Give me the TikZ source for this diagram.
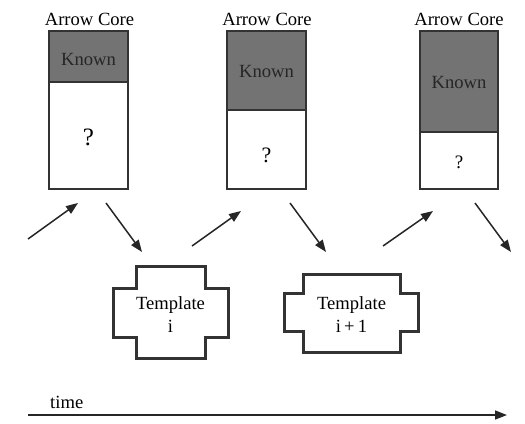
\documentclass[tikz,border=0pt]{standalone}
\usepackage{fontspec}
\setmainfont{Liberation Serif}
\usetikzlibrary{arrows.meta}
\begin{document}
\begin{tikzpicture}[x=1bp,y=-1bp,
  txt/.style={font=\fontsize{18.6bp}{23bp}\selectfont, inner sep=0pt, align=center},
  boxline/.style={draw=black!80, line width=1.4bp},
  shade/.style={fill=black!55},
  tmpl/.style={draw=black!80, line width=3bp, line join=miter},
  flow/.style={draw=black!85, line width=1.5bp, -{Triangle[length=12bp,width=9bp]}},
]
\useasboundingbox (0,0) rectangle (525,423);
% core boxes
\fill[shade] (49,31) rectangle (128,82);
\draw[boxline] (49,31) rectangle (128,189);
\draw[boxline] (49,82) -- (128,82);
\fill[shade] (227,31) rectangle (306,110);
\draw[boxline] (227,31) rectangle (306,189);
\draw[boxline] (227,110) -- (306,110);
\fill[shade] (420,31) rectangle (498,132);
\draw[boxline] (420,31) rectangle (498,189);
\draw[boxline] (420,132) -- (498,132);
\node[txt] (h1) at (89.5,19) {Arrow Core};
\node[txt] (h2) at (267,19) {Arrow Core};
\node[txt] (h3) at (459,19) {Arrow Core};
\node[txt, text=black!85] (k1) at (88.5,59) {Known};
\node[txt, text=black!85] (k2) at (266.5,71) {Known};
\node[txt, text=black!85] (k3) at (459,82) {Known};
\node[txt, font=\fontsize{25bp}{26bp}\selectfont] (q1) at (88.5,137) {?};
\node[txt, font=\fontsize{22bp}{24bp}\selectfont] (q2) at (266.5,155) {?};
\node[txt, font=\fontsize{19bp}{22bp}\selectfont] (q3) at (459,162) {?};
% templates
\draw[tmpl] (136,266) -- (205,266) -- (205,288) -- (228,288) -- (228,337) -- (205,337) -- (205,358) -- (136,358) -- (136,337) -- (113,337) -- (113,288) -- (136,288) -- cycle;
\draw[tmpl] (303,274) -- (400,274) -- (400,293) -- (418,293) -- (418,331) -- (400,331) -- (400,352) -- (303,352) -- (303,331) -- (284,331) -- (284,293) -- (303,293) -- cycle;
\node[txt] (t1) at (170.5,315) {Template\\i};
\node[txt] (t2) at (351.5,315) {Template\\i\,+\,1};
% flow arrows
\coordinate (a1s) at (28,239); \coordinate (a1e) at (78,203);
\coordinate (a2s) at (106,203); \coordinate (a2e) at (142,252);
\coordinate (a3s) at (192,246); \coordinate (a3e) at (241,211);
\coordinate (a4s) at (290,203); \coordinate (a4e) at (326,252);
\coordinate (a5s) at (383,246); \coordinate (a5e) at (433,211);
\coordinate (a6s) at (475,203); \coordinate (a6e) at (511,252);
\draw[flow] (a1s) -- (a1e);
\draw[flow] (a2s) -- (a2e);
\draw[flow] (a3s) -- (a3e);
\draw[flow] (a4s) -- (a4e);
\draw[flow] (a5s) -- (a5e);
\draw[flow] (a6s) -- (a6e);
% time axis
\coordinate (ts) at (28,415); \coordinate (te) at (507,415);
\draw[flow] (ts) -- (te);
\node[txt, anchor=base west] (time) at (50,408) {time};
\end{tikzpicture}
\end{document}
